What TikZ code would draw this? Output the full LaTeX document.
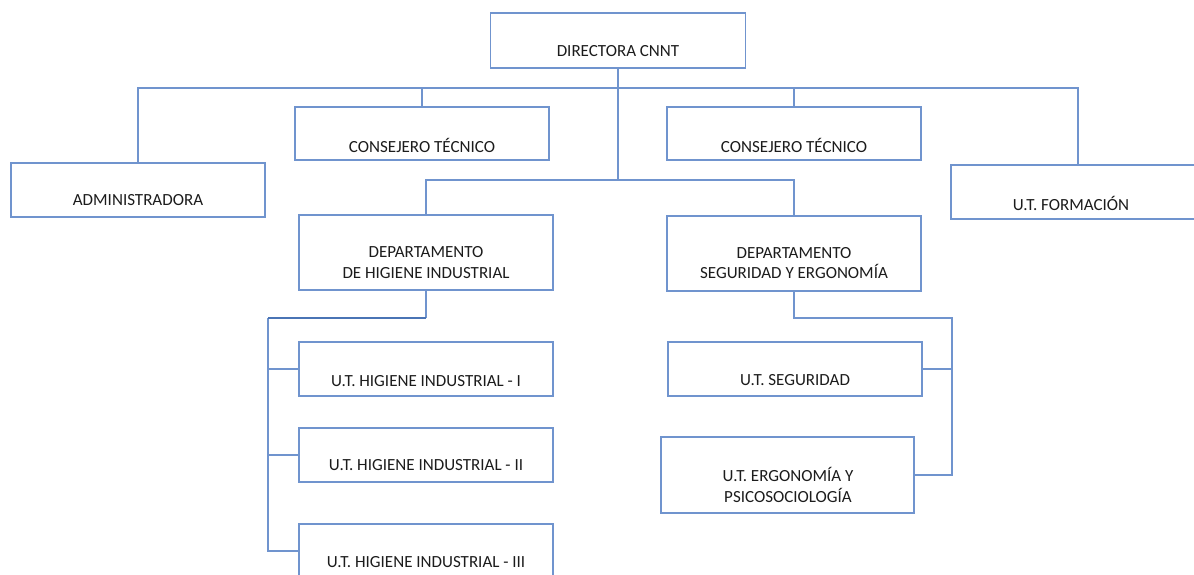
\documentclass[tikz,border=0pt]{standalone}
\usepackage{fontspec}
\setmainfont{Carlito}
\definecolor{ln}{HTML}{7094CE}
\definecolor{lnd}{HTML}{4A74B5}
\definecolor{tx}{HTML}{1C1C1C}
\begin{document}
\begin{tikzpicture}[x=1pt,y=-1pt,
  box/.style={draw=ln, line width=1.6pt, minimum width=254pt, minimum height=54pt, inner sep=0pt, fill=white},
  txt/.style={text=tx, font=\fontsize{17}{20.5}\selectfont, align=center, inner sep=0pt},
  conn/.style={draw=ln, line width=1.6pt},
  thickconn/.style={draw=lnd, line width=2.8pt}]
\clip (0,0) rectangle (1194,575);
\fill[white] (0,0) rectangle (1194,575);
% boxes
\node[box, minimum width=255pt, minimum height=55pt] (dir) at (618,40.5) {};
\node[txt] (tdir) at (618,51) {DIRECTORA CNNT};
\node[box, minimum height=53pt] (cons1) at (422,133.5) {};
\node[txt] (tcons1) at (422,145) {CONSEJERO TÉCNICO};
\node[box, minimum height=53pt] (cons2) at (794,133.5) {};
\node[txt] (tcons2) at (794,145) {CONSEJERO TÉCNICO};
\node[box] (adm) at (138,190) {};
\node[txt] (tadm) at (138,200) {ADMINISTRADORA};
\node[box] (form) at (1078,192) {};
\node[txt] (tform) at (1071,203) {U.T. FORMACIÓN};
\node[box, minimum height=75pt] (dhi) at (426,252.5) {};
\node[txt] (tdhi) at (426,262.5) {DEPARTAMENTO\\DE HIGIENE INDUSTRIAL};
\node[box, minimum height=75pt] (dse) at (794,253.5) {};
\node[txt] (tdse) at (794,263) {DEPARTAMENTO\\SEGURIDAD Y ERGONOMÍA};
\node[box] (hi1) at (426,369) {};
\node[txt] (thi1) at (426,381) {U.T. HIGIENE INDUSTRIAL - I};
\node[box] (hi2) at (426,455) {};
\node[txt] (thi2) at (426,465) {U.T. HIGIENE INDUSTRIAL - II};
\node[box] (hi3) at (426,551) {};
\node[txt] (thi3) at (426,562) {U.T. HIGIENE INDUSTRIAL - III};
\node[box] (seg) at (795,369) {};
\node[txt] (tseg) at (795,380) {U.T. SEGURIDAD};
\node[box, minimum width=253pt, minimum height=76pt] (erg) at (787.5,475) {};
\node[txt] (terg) at (788,485) {U.T. ERGONOMÍA Y\\PSICOSOCIOLOGÍA};
% connector coordinates
\coordinate (b1) at (618,88);
\coordinate (b2) at (618,180);
\coordinate (l1) at (268,318);
\coordinate (r1) at (952,318);
% top bus
\draw[conn] (adm.north) |- (b1) -| (form.north);
\draw[conn] (cons1.north) -- (cons1.north |- b1);
\draw[conn] (cons2.north) -- (cons2.north |- b1);
\draw[conn] (dir.south) -- (b2);
\draw[conn] (dhi.north) |- (b2) -| (dse.north);
% left branch
\draw[conn] (dhi.south) -- (dhi.south |- l1);
\draw[conn] (l1) |- (hi3.west);
\draw[conn] (hi1.west) -- (hi1.west -| l1);
\draw[conn] (hi2.west) -- (hi2.west -| l1);
\draw[thickconn] (dhi.south |- l1) -- (l1);
% right branch
\draw[conn] (dse.south) |- (r1) |- (erg.east);
\draw[conn] (seg.east) -- (seg.east -| r1);
\end{tikzpicture}
\end{document}
